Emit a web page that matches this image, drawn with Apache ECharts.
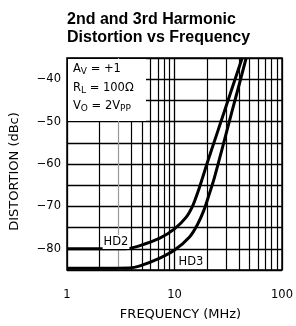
<!DOCTYPE html>
<html>
<head>
<meta charset="utf-8">
<script src="https://cdn.jsdelivr.net/npm/echarts@6/dist/echarts.min.js"></script>
<style>
  html, body { margin: 0; padding: 0; background: #fff; }
  #chart { width: 296px; height: 326px; }
</style>
</head>
<body>
<div id="chart"></div>
<script>
// frequency (MHz), distortion (dBc)
var hd2 = [[1, -80], [3.5, -80], [4.7, -79.3], [7.3, -77.5], [10, -75.3], [12.8, -72.6],
  [14.8, -69.8], [16.5, -66.6], [18.2, -63.3], [20, -60], [25, -52.6], [31, -45.5], [42.6, -35]]
var hd3 = [[1, -84.6], [3.8, -84.5], [4.7, -84.1], [7.3, -82.2], [10, -80.3], [13.8, -77.2],
  [16.4, -74.2], [18.9, -70.7], [21.1, -67], [23.4, -63.4], [28, -56], [34, -47.9],
  [40, -41.2], [46.4, -35]]
var minorFreqs = [2, 3, 4, 5, 6, 7, 8, 9, 20, 30, 40, 50, 60, 70, 80, 90]
var yTicks = [-40, -50, -60, -70, -80]

var font = 'DejaVu Sans'
var myChart = echarts.init(document.getElementById('chart'))

var curve = function (name, data) {
  return {
    name: name,
    type: 'line',
    data: data,
    showSymbol: false,
    smooth: 0.35,
    z: 5,
    lineStyle: { color: '#000', width: 3 }
  }
}

var sub = { fontSize: 9, fontFamily: font, color: '#000', verticalAlign: 'bottom', lineHeight: 8 }
var nrm = { fontSize: 11.5, fontFamily: font, color: '#000', lineHeight: 14 }

var option = {
  animation: false,
  title: {
    text: '2nd and 3rd Harmonic\nDistortion vs Frequency',
    left: 67,
    top: 11,
    padding: 0,
    textStyle: { fontFamily: 'Liberation Sans', fontWeight: 'bold', fontSize: 16, lineHeight: 18, color: '#000' }
  },
  grid: { left: 67, right: 13, top: 58, bottom: 53, show: true, borderColor: '#000', borderWidth: 1.5 },
  xAxis: {
    type: 'log',
    logBase: 10,
    min: 1,
    max: 100,
    name: 'FREQUENCY (MHz)',
    nameLocation: 'middle',
    nameGap: 38,
    nameTextStyle: { fontFamily: font, fontSize: 13, color: '#000', padding: [0, 0, 0, 12] },
    axisLine: { show: false },
    axisTick: { show: false },
    axisLabel: { margin: 19, fontFamily: font, fontSize: 11.5, color: '#000' },
    splitLine: { show: true, lineStyle: { color: '#000', width: 1.3 } }
  },
  yAxis: {
    type: 'value',
    min: -85,
    max: -35,
    interval: 5,
    name: 'DISTORTION (dBc)',
    nameLocation: 'middle',
    nameGap: 46,
    nameTextStyle: { fontFamily: font, fontSize: 13, color: '#000', padding: [0, 15, 0, 0] },
    axisLine: { show: false },
    axisTick: { show: false },
    axisLabel: {
      margin: 6,
      fontFamily: font,
      fontSize: 11.5,
      color: '#000',
      formatter: function (v) {
        return yTicks.indexOf(v) >= 0 ? '\u2212' + Math.abs(v) : ''
      }
    },
    splitLine: { show: true, lineStyle: { color: '#000', width: 1.3 } }
  },
  series: [
    {
      name: 'grid',
      type: 'line',
      data: [[1, -85]],
      showSymbol: false,
      lineStyle: { width: 0 },
      silent: true,
      z: 1,
      markLine: {
        silent: true,
        symbol: ['none', 'none'],
        label: { show: false },
        lineStyle: { color: '#000', width: 1.2, type: 'solid' },
        data: minorFreqs.map(function (f) {
          return { xAxis: f, lineStyle: { color: f === 3 ? '#999' : '#000' } }
        })
      }
    },
    curve('HD2', hd2),
    curve('HD3', hd3)
  ],
  graphic: [
    { type: 'rect', x: 68, y: 59, z: 100, shape: { width: 78, height: 62 }, style: { fill: '#fff' } },
    { type: 'text', x: 73, y: 69, z: 101, style: { text: '{n|A}{s|V}{n| = +1}', verticalAlign: 'middle', rich: { n: nrm, s: sub } } },
    { type: 'text', x: 73, y: 88, z: 101, style: { text: '{n|R}{s|L}{n| = 100\u03a9}', verticalAlign: 'middle', rich: { n: nrm, s: sub } } },
    { type: 'text', x: 73, y: 106, z: 101, style: { text: '{n|V}{s|O}{n| = 2V}{s|PP}', verticalAlign: 'middle', rich: { n: nrm, s: sub } } },
    { type: 'text', x: 116, y: 242, z: 101, style: { text: 'HD2', fontFamily: font, fontSize: 11.5, fill: '#000', align: 'center', verticalAlign: 'middle', backgroundColor: '#fff', padding: [1, 1] } },
    { type: 'text', x: 191, y: 262, z: 101, style: { text: 'HD3', fontFamily: font, fontSize: 11.5, fill: '#000', align: 'center', verticalAlign: 'middle', backgroundColor: '#fff', padding: [1, 1] } }
  ]
}

myChart.setOption(option)
</script>
</body>
</html>
